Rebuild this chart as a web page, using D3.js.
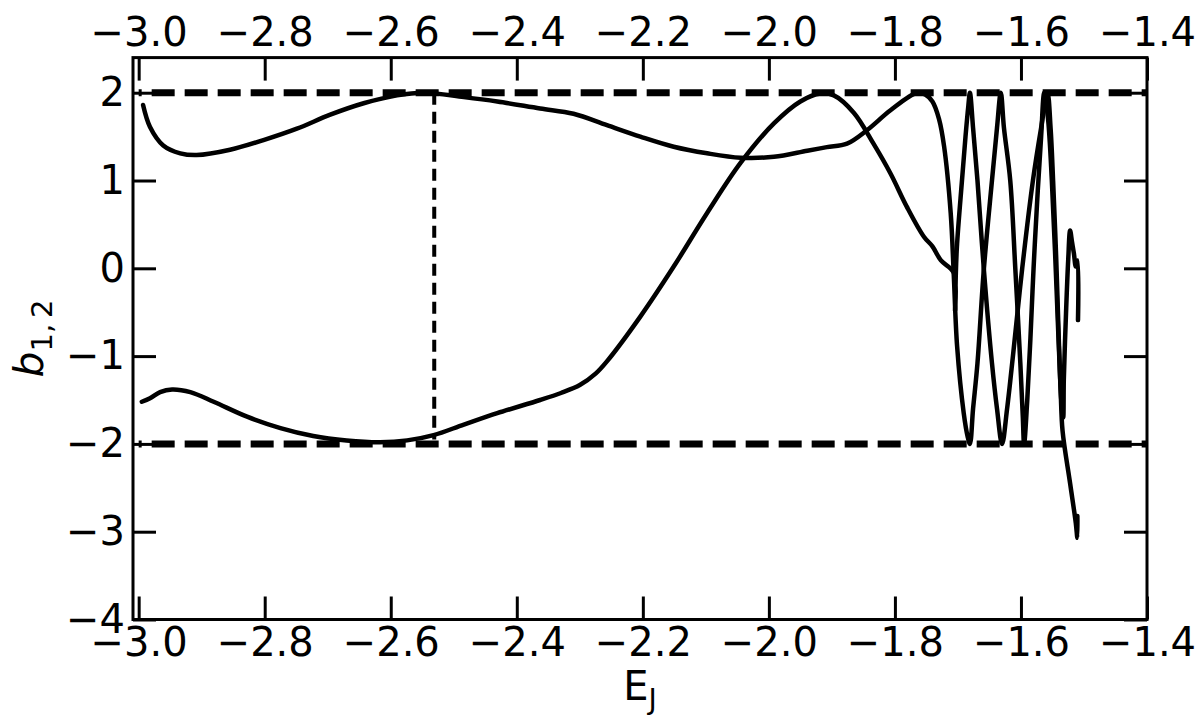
<!DOCTYPE html>
<html>
<head>
<meta charset="utf-8">
<script src="https://cdn.jsdelivr.net/npm/d3@7"></script>
<style>
  body { margin: 0; background: #fff; }
  text { font-family: "DejaVu Sans", sans-serif; fill: #000; }
</style>
</head>
<body>
<div id="chart"></div>
<script>
// E_J on x, stability indices b1 and b2 on y
const xDomain = [-3.009, -1.4];
const yDomain = [-4, 2.4];
const xTicks = [-3.0, -2.8, -2.6, -2.4, -2.2, -2.0, -1.8, -1.6, -1.4];
const yTicks = [-4, -3, -2, -1, 0, 1, 2];
const stabilityLimits = [2, -2];
const markerEnergy = -2.531;

const b1Points = [
  [-2.993, 1.86], [-2.982, 1.61], [-2.961, 1.40], [-2.934, 1.31], [-2.908, 1.29],
  [-2.855, 1.35], [-2.802, 1.46], [-2.749, 1.59], [-2.696, 1.75], [-2.643, 1.88],
  [-2.590, 1.97], [-2.548, 2.00], [-2.484, 1.95], [-2.431, 1.90], [-2.363, 1.82],
  [-2.310, 1.76], [-2.257, 1.63], [-2.204, 1.50], [-2.151, 1.385], [-2.098, 1.31],
  [-2.045, 1.26], [-1.992, 1.27], [-1.939, 1.34], [-1.908, 1.38], [-1.876, 1.42],
  [-1.844, 1.575], [-1.807, 1.80], [-1.765, 2.00], [-1.752, 1.98], [-1.7405, 1.90],
  [-1.730, 1.70], [-1.722, 1.39], [-1.7115, 0.63], [-1.7067, -0.06], [-1.7013, -0.89],
  [-1.6908, -1.65], [-1.6845, -1.92], [-1.681, -2.00], [-1.676, -1.6], [-1.669, -1.08],
  [-1.659, -0.02], [-1.646, 1.0], [-1.638, 1.6], [-1.632, 2.00], [-1.627, 1.6],
  [-1.617, 1.0], [-1.609, 0.0], [-1.601, -1.08], [-1.597, -1.7], [-1.595, -2.00],
  [-1.590, -1.5], [-1.585, -0.8], [-1.580, 0.0], [-1.574, 0.8], [-1.568, 1.5],
  [-1.563, 2.00], [-1.557, 1.7], [-1.551, 1.0], [-1.546, 0.2], [-1.541, -0.7],
  [-1.537, -1.4], [-1.534, -1.85], [-1.522, -2.45], [-1.513, -2.90], [-1.5105, -3.07],
  [-1.5105, -2.82]
];

const b2Points = [
  [-2.995, -1.52], [-2.982, -1.48], [-2.966, -1.41], [-2.947, -1.38], [-2.918, -1.41],
  [-2.881, -1.52], [-2.828, -1.69], [-2.775, -1.82], [-2.723, -1.91], [-2.670, -1.96],
  [-2.617, -1.98], [-2.574, -1.96], [-2.532, -1.90], [-2.484, -1.78], [-2.431, -1.65],
  [-2.363, -1.50], [-2.330, -1.42], [-2.300, -1.33], [-2.275, -1.20], [-2.257, -1.06],
  [-2.204, -0.55], [-2.151, 0.02], [-2.098, 0.63], [-2.045, 1.20], [-1.992, 1.65],
  [-1.950, 1.90], [-1.918, 1.99], [-1.897, 1.97], [-1.865, 1.77], [-1.834, 1.42],
  [-1.807, 1.08], [-1.781, 0.70], [-1.754, 0.36], [-1.7405, 0.25], [-1.727, 0.09],
  [-1.7067, -0.05], [-1.7045, -0.48], [-1.7035, -0.1], [-1.7016, 0.25], [-1.6936, 1.0],
  [-1.688, 1.5], [-1.6835, 1.85], [-1.681, 2.00], [-1.676, 1.6], [-1.669, 1.0],
  [-1.659, 0.0], [-1.646, -1.08], [-1.638, -1.6], [-1.630, -2.00], [-1.622, -1.6],
  [-1.612, -0.95], [-1.598, 0.0], [-1.581, 1.0], [-1.568, 1.6], [-1.558, 2.00],
  [-1.553, 1.6], [-1.549, 1.0], [-1.544, 0.1], [-1.540, -0.8], [-1.536, -1.5],
  [-1.533, -1.7], [-1.532, -1.27], [-1.5285, -0.51], [-1.525, 0.1], [-1.522, 0.43],
  [-1.519, 0.3], [-1.516, 0.17], [-1.513, 0.02], [-1.510, 0.09], [-1.5095, -0.59]
];

const width = 1200;
const height = 720;
const plot = { left: 133, right: 1147, top: 57.6, bottom: 619.5 };
const tickLength = 23;

const svg = d3.select("#chart")
  .append("svg")
  .attr("width", width)
  .attr("height", height);

const x = d3.scaleLinear().domain(xDomain).range([plot.left, plot.right]);
const y = d3.scaleLinear().domain(yDomain).range([plot.bottom, plot.top]);

const fmtX = d3.format(".1f");
const fmtY = d3.format("d");

function styleAxis(g) {
  g.select(".domain").remove();
  g.selectAll(".tick line").attr("stroke", "#000").attr("stroke-width", 3);
  g.selectAll(".tick text").attr("font-size", 40).attr("font-family", "DejaVu Sans");
}

svg.append("g")
  .attr("transform", `translate(0, ${plot.bottom})`)
  .call(d3.axisBottom(x).tickValues(xTicks).tickFormat(fmtX).tickSize(-tickLength).tickPadding(8))
  .call(styleAxis);

svg.append("g")
  .attr("transform", `translate(0, ${plot.top})`)
  .call(d3.axisTop(x).tickValues(xTicks).tickFormat(fmtX).tickSize(-tickLength).tickPadding(12))
  .call(styleAxis);

svg.append("g")
  .attr("transform", `translate(${plot.left}, 0)`)
  .call(d3.axisLeft(y).tickValues(yTicks).tickFormat(fmtY).tickSize(-tickLength).tickPadding(8))
  .call(styleAxis);

svg.append("g")
  .attr("transform", `translate(${plot.right}, 0)`)
  .call(d3.axisRight(y).tickValues(yTicks).tickFormat("").tickSize(-tickLength))
  .call(styleAxis);

// dashed limits at b = +-2
svg.append("g")
  .selectAll("line")
  .data(stabilityLimits)
  .enter()
  .append("line")
  .attr("x1", x(-3.0))
  .attr("x2", x(xDomain[1]))
  .attr("y1", d => y(d))
  .attr("y2", d => y(d))
  .attr("stroke", "#000")
  .attr("stroke-width", 7)
  .attr("stroke-dasharray", "23,10")
  .attr("stroke-dashoffset", 20);

svg.append("line")
  .attr("x1", x(markerEnergy))
  .attr("x2", x(markerEnergy))
  .attr("y1", y(2))
  .attr("y2", y(-1.95))
  .attr("stroke", "#000")
  .attr("stroke-width", 4)
  .attr("stroke-dasharray", "12,7");

const line = d3.line()
  .curve(d3.curveCatmullRom.alpha(0.5))
  .x(d => x(d[0]))
  .y(d => y(d[1]));

svg.append("g")
  .selectAll("path")
  .data([b1Points, b2Points])
  .enter()
  .append("path")
  .attr("fill", "none")
  .attr("stroke", "#000")
  .attr("stroke-width", 4.5)
  .attr("stroke-linejoin", "round")
  .attr("stroke-linecap", "round")
  .attr("d", line);

// frame
svg.append("rect")
  .attr("x", plot.left)
  .attr("y", plot.top)
  .attr("width", plot.right - plot.left)
  .attr("height", plot.bottom - plot.top)
  .attr("fill", "none")
  .attr("stroke", "#000")
  .attr("stroke-width", 3);

// axis labels
const xLabel = svg.append("text")
  .attr("x", (plot.left + plot.right) / 2)
  .attr("y", 700)
  .attr("text-anchor", "middle")
  .attr("font-size", 40);
xLabel.append("tspan").text("E");
xLabel.append("tspan").attr("font-size", 28).attr("dy", 9).text("J");

const yLabel = svg.append("text")
  .attr("transform", `translate(43, ${(plot.top + plot.bottom) / 2}) rotate(-90)`)
  .attr("text-anchor", "middle")
  .attr("font-size", 41);
yLabel.append("tspan").attr("font-style", "italic").text("b");
yLabel.append("tspan").attr("font-size", 29).attr("dy", 9).text("1,\u20092");
</script>
</body>
</html>
